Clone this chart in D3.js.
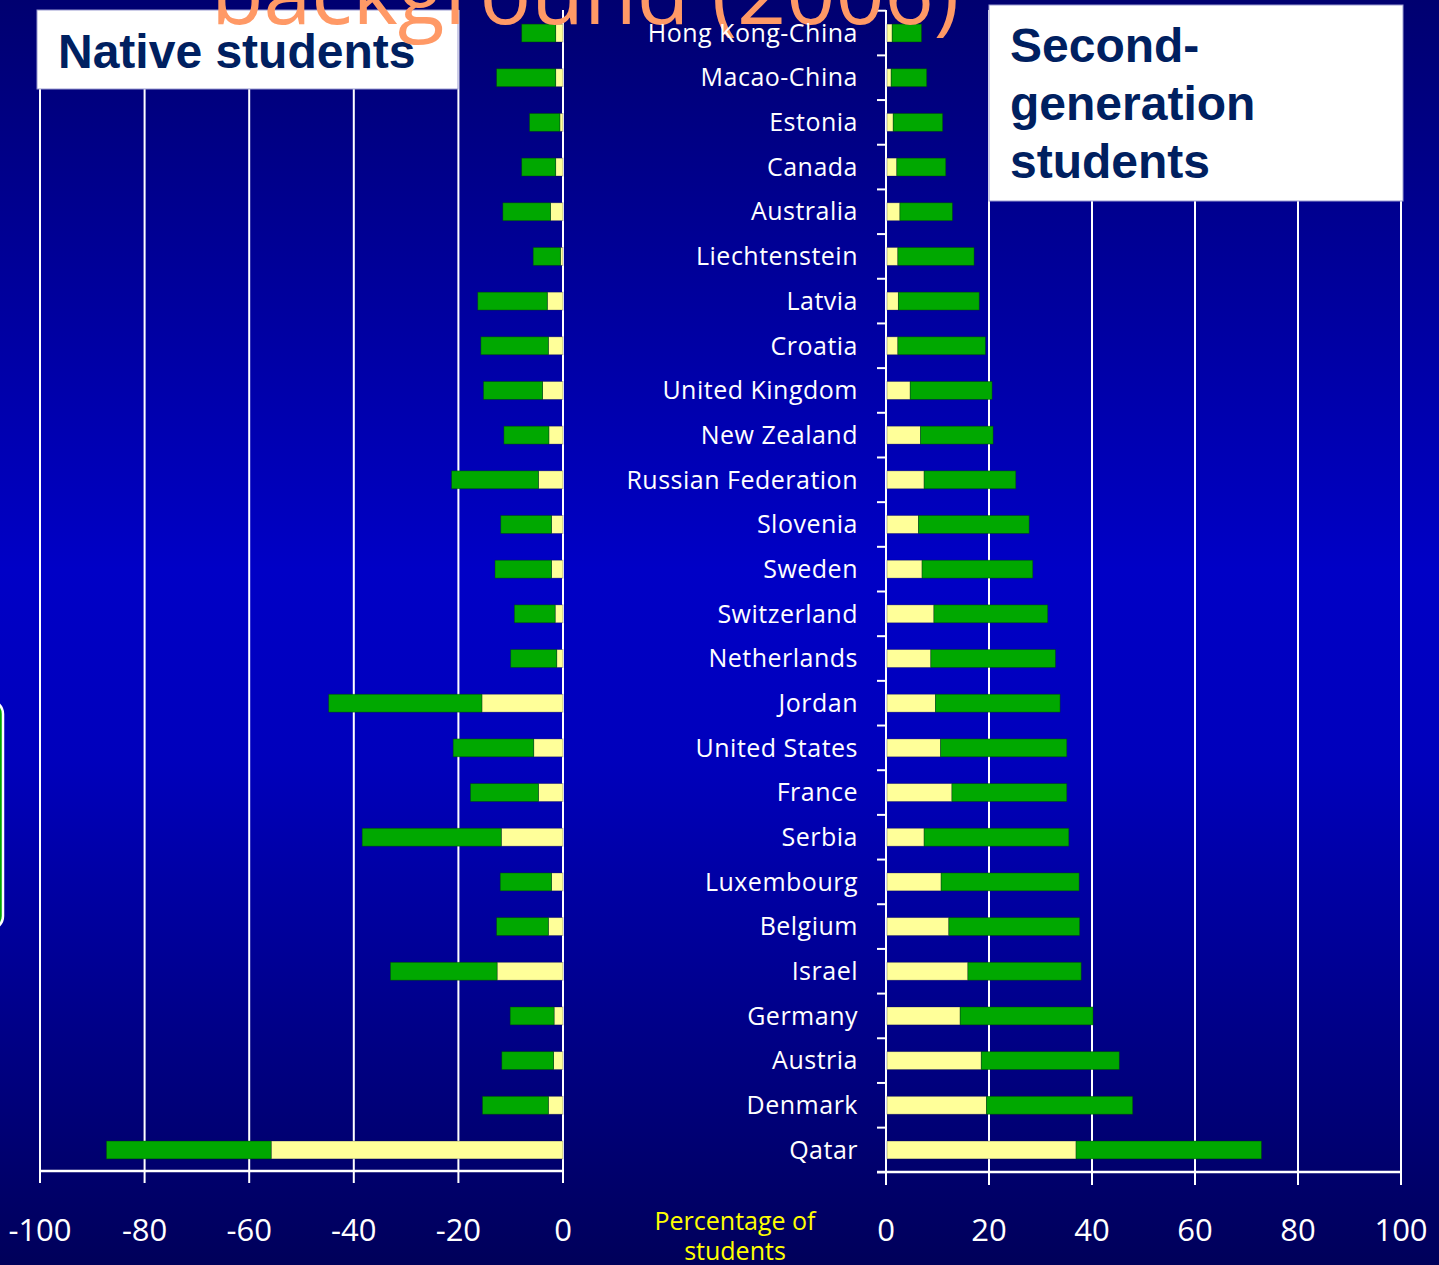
<!DOCTYPE html>
<html>
<head>
<meta charset="utf-8">
<script src="https://cdn.jsdelivr.net/npm/d3@7"></script>
<style>
  html, body { margin: 0; padding: 0; background: #000070; overflow: hidden; }
  svg { display: block; }
</style>
</head>
<body>
<svg id="chart" width="1439" height="1265"></svg>
<script>
// ---------- DATA ----------
const countries = ["Hong Kong-China","Macao-China","Estonia","Canada","Australia","Liechtenstein",
  "Latvia","Croatia","United Kingdom","New Zealand","Russian Federation","Slovenia","Sweden",
  "Switzerland","Netherlands","Jordan","United States","France","Serbia","Luxembourg","Belgium",
  "Israel","Germany","Austria","Denmark","Qatar"];

// Native students (plotted to the left): yellow segment, green segment (percentage of students)
const nativeYellow = [1.4,1.4,0.6,1.4,2.4,0.5,3.0,2.8,3.9,2.7,4.7,2.2,2.2,1.5,1.2,15.5,5.6,4.7,11.8,2.2,2.8,12.6,1.7,1.8,2.8,55.8];
const nativeGreen  = [6.5,11.3,5.8,6.5,9.1,5.2,13.3,12.9,11.3,8.6,16.6,9.7,10.8,7.8,8.8,29.3,15.4,13.0,26.6,9.8,9.9,20.4,8.4,9.9,12.6,31.5];

// Second-generation students (plotted to the right)
const secondYellow = [1.2,1.0,1.4,2.1,2.7,2.3,2.4,2.3,4.7,6.7,7.4,6.3,7.0,9.3,8.7,9.6,10.6,12.8,7.4,10.7,12.2,15.9,14.4,18.5,19.5,36.9];
const secondGreen  = [5.7,6.9,9.6,9.5,10.2,14.8,15.7,17.0,15.9,14.1,17.8,21.5,21.5,22.1,24.2,24.2,24.5,22.3,28.1,26.8,25.4,22.0,25.8,26.8,28.4,36.0];

const leftTicks  = [-100,-80,-60,-40,-20,0];
const rightTicks = [0,20,40,60,80,100];

const titleText = "background (2006)";
const nativeLabel = ["Native students"];
const secondLabel = ["Second-","generation","students"];
const axisTitle = ["Percentage of","students"];

// ---------- SETUP ----------
const W = 1439, H = 1265;
const svg = d3.select("#chart");
const YELLOW = "#FFFF99", GREEN = "#00A800";
const labelFont = "'Comic Sans MS','Open Sans','DejaVu Sans',sans-serif";

// background gradient
const defs = svg.append("defs");
const grad = defs.append("linearGradient").attr("id","bg").attr("x1",0).attr("y1",0).attr("x2",0).attr("y2",1);
[[0,"#000070"],[0.45,"#0000C6"],[0.6,"#0000BC"],[1,"#00005A"]].forEach(([o,c]) =>
  grad.append("stop").attr("offset",o).attr("stop-color",c));
svg.append("rect").attr("width",W).attr("height",H).attr("fill","url(#bg)");

// partially visible rounded shape at left edge
svg.append("rect").attr("x",-60).attr("y",700).attr("width",63).attr("height",230)
  .attr("rx",14).attr("fill",GREEN).attr("stroke","#ffffff").attr("stroke-width",2.5);

// scales
const y = d3.scaleBand().domain(countries).range([10.7, 1172.3]).paddingInner(0.6).paddingOuter(0.3);
const xL = d3.scaleLinear().domain([-100,0]).range([40,563]);
const xR = d3.scaleLinear().domain([0,100]).range([886,1401]);
const axisY = 1172;
const step = y.step();
const off = (step - y.bandwidth())/2;

// ---------- LEFT PANEL ----------
const gL = svg.append("g");
gL.selectAll("line.grid").data(leftTicks).join("line")
  .attr("x1",d=>xL(d)).attr("x2",d=>xL(d)).attr("y1",10).attr("y2",axisY+11)
  .attr("stroke","#ffffff").attr("stroke-width",2);
gL.append("line").attr("x1",xL(-100)).attr("x2",xL(0)).attr("y1",axisY-1).attr("y2",axisY-1)
  .attr("stroke","#ffffff").attr("stroke-width",2.5);

gL.selectAll("rect.ny").data(countries).join("rect")
  .attr("x",(d,i)=>xL(-nativeYellow[i])).attr("y",d=>y(d))
  .attr("width",(d,i)=>xL(0)-xL(-nativeYellow[i])).attr("height",y.bandwidth())
  .attr("fill",YELLOW).attr("stroke","rgba(0,0,60,0.35)").attr("stroke-width",0.8);
gL.selectAll("rect.ng").data(countries).join("rect")
  .attr("x",(d,i)=>xL(-(nativeYellow[i]+nativeGreen[i]))).attr("y",d=>y(d))
  .attr("width",(d,i)=>xL(-nativeYellow[i])-xL(-(nativeYellow[i]+nativeGreen[i]))).attr("height",y.bandwidth())
  .attr("fill",GREEN).attr("stroke","rgba(0,60,0,0.5)").attr("stroke-width",0.8);

// ---------- RIGHT PANEL ----------
const gR = svg.append("g");
gR.selectAll("line.grid").data(rightTicks.slice(1)).join("line")
  .attr("x1",d=>xR(d)).attr("x2",d=>xR(d)).attr("y1",10).attr("y2",axisY+13)
  .attr("stroke","#ffffff").attr("stroke-width",2);
gR.append("line").attr("x1",xR(0)).attr("x2",xR(0)).attr("y1",10).attr("y2",axisY+13)
  .attr("stroke","#ffffff").attr("stroke-width",2);
gR.append("line").attr("x1",xR(0)-9).attr("x2",xR(100)).attr("y1",axisY).attr("y2",axisY)
  .attr("stroke","#ffffff").attr("stroke-width",2.5);
const bounds = countries.map(d => y(d) - off).concat([y(countries[countries.length-1]) + y.bandwidth() + off]);
gR.selectAll("line.ct").data(bounds).join("line")
  .attr("x1",xR(0)-9).attr("x2",xR(0)).attr("y1",d=>d).attr("y2",d=>d)
  .attr("stroke","#ffffff").attr("stroke-width",2);

gR.selectAll("rect.sy").data(countries).join("rect")
  .attr("x",xR(0)+1).attr("y",d=>y(d))
  .attr("width",(d,i)=>xR(secondYellow[i])-xR(0)-1).attr("height",y.bandwidth())
  .attr("fill",YELLOW).attr("stroke","rgba(0,0,60,0.35)").attr("stroke-width",0.8);
gR.selectAll("rect.sg").data(countries).join("rect")
  .attr("x",(d,i)=>xR(secondYellow[i])).attr("y",d=>y(d))
  .attr("width",(d,i)=>xR(secondYellow[i]+secondGreen[i])-xR(secondYellow[i])).attr("height",y.bandwidth())
  .attr("fill",GREEN).attr("stroke","rgba(0,60,0,0.5)").attr("stroke-width",0.8);

// ---------- LABEL BOXES ----------
svg.append("rect").attr("x",37).attr("y",10).attr("width",421).attr("height",79)
  .attr("fill","#ffffff").attr("stroke","#9a9ad0").attr("stroke-width",1);
svg.append("text").attr("x",58).attr("y",68).text(nativeLabel[0])
  .attr("font-family","'Liberation Sans',Arial,sans-serif").attr("font-weight","bold")
  .attr("font-size",48).attr("fill","#002060");

svg.append("rect").attr("x",989).attr("y",5).attr("width",414).attr("height",196)
  .attr("fill","#ffffff").attr("stroke","#9a9ad0").attr("stroke-width",1);
svg.selectAll("text.sec").data(secondLabel).join("text")
  .attr("x",1010).attr("y",(d,i)=>62+i*58).text(d=>d)
  .attr("font-family","'Liberation Sans',Arial,sans-serif").attr("font-weight","bold")
  .attr("font-size",48).attr("fill","#002060");

// ---------- TITLE (cut off at top) ----------
svg.append("text").attr("x",585).attr("y",24).attr("text-anchor","middle").text(titleText)
  .attr("font-family",labelFont).attr("font-size",86).attr("fill","#FF9966");

// ---------- COUNTRY LABELS ----------
svg.selectAll("text.country").data(countries).join("text")
  .attr("x",858).attr("y",d=>y(d)+y.bandwidth()/2).attr("dy","0.35em")
  .attr("text-anchor","end").text(d=>d)
  .attr("font-family",labelFont).attr("font-size",25).attr("letter-spacing",0.5).attr("fill","#ffffff");

// ---------- AXIS TICK LABELS ----------
svg.selectAll("text.lt").data(leftTicks).join("text")
  .attr("x",d=>xL(d)).attr("y",1241).attr("text-anchor","middle").text(d=>String(d))
  .attr("font-family",labelFont).attr("font-size",31).attr("fill","#ffffff");
svg.selectAll("text.rt").data(rightTicks).join("text")
  .attr("x",d=>xR(d)).attr("y",1241).attr("text-anchor","middle").text(d=>String(d))
  .attr("font-family",labelFont).attr("font-size",31).attr("fill","#ffffff");

svg.selectAll("text.at").data(axisTitle).join("text")
  .attr("x",735).attr("y",(d,i)=>1230+i*30).attr("text-anchor","middle").text(d=>d)
  .attr("font-family",labelFont).attr("font-size",25).attr("fill","#FFFF00");
</script>
</body>
</html>
